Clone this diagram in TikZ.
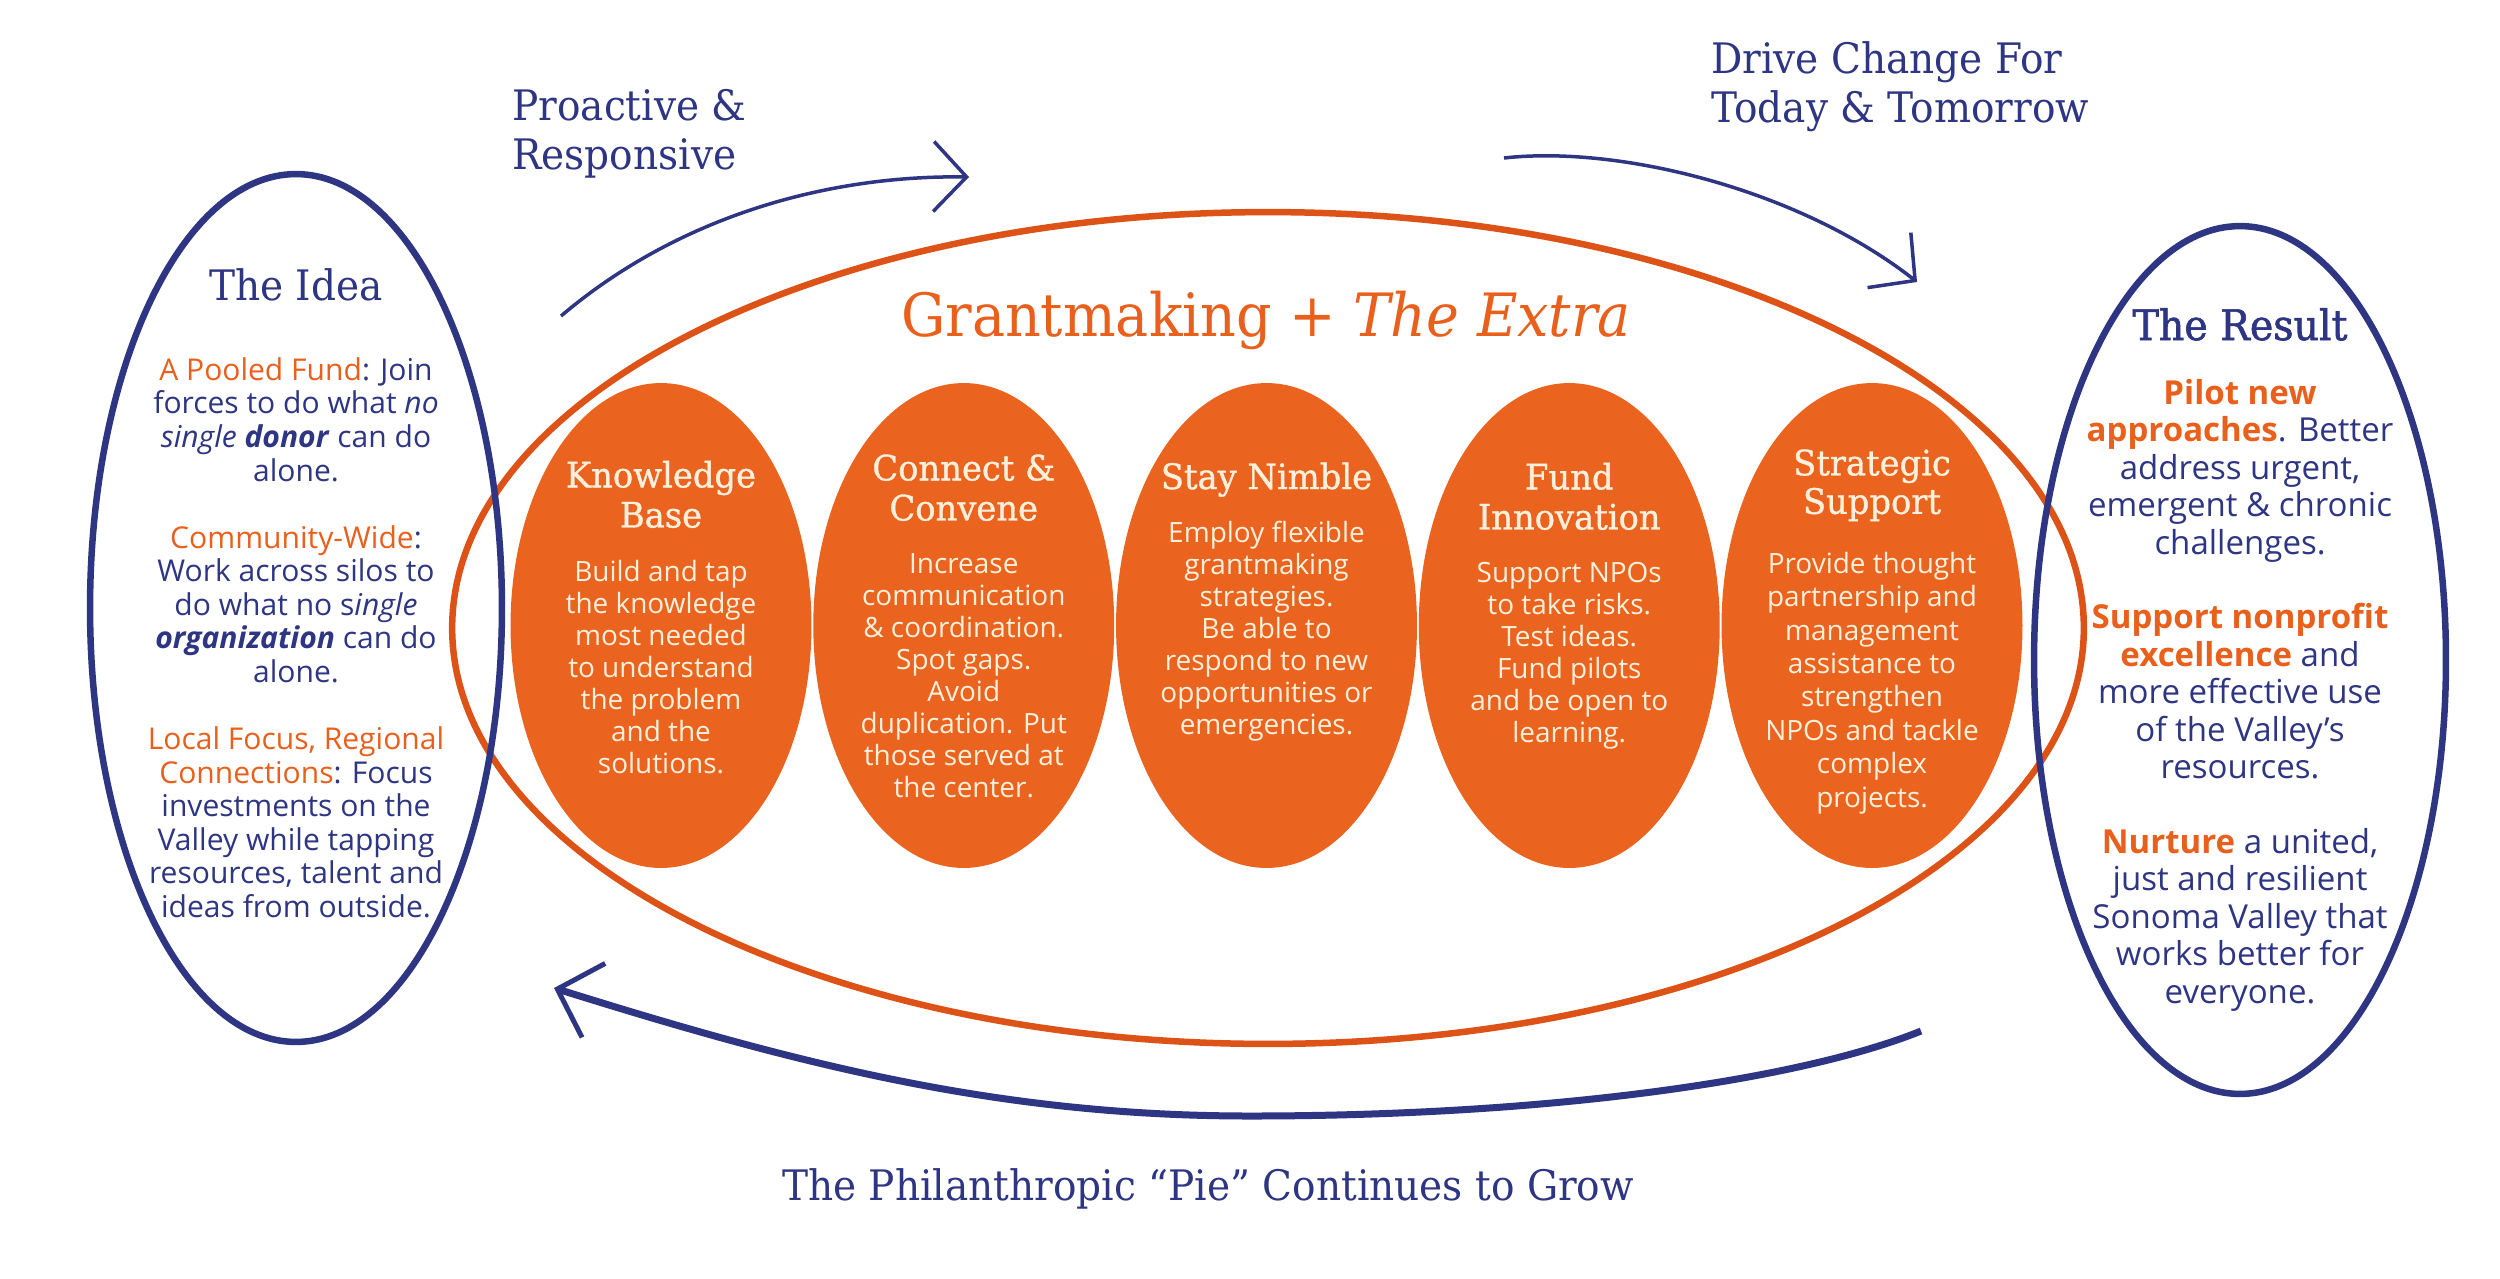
\documentclass[tikz,border=0pt]{standalone}
\usepackage{fontspec}
\setmainfont{Open Sans}
\newfontfamily\ser[FakeStretch=0.93]{DejaVu Serif}
\newfontfamily\serh[FakeStretch=0.965,FakeBold=1]{DejaVu Serif}
\newfontfamily\serb[FakeStretch=0.94,FakeBold=1.5]{DejaVu Serif}
\usetikzlibrary{shapes.geometric,arrows.meta}
\definecolor{Nv}{HTML}{2E3582}
\definecolor{Or}{HTML}{E8601C}
\definecolor{OrFill}{HTML}{EA631F}
\definecolor{OrLine}{HTML}{DC5217}
\definecolor{Cream}{HTML}{FBF0DC}
\newcommand\fTop{\ser\fontsize{23.9pt}{27.9pt}\selectfont}
\newcommand\fGrant{\ser\fontsize{34pt}{40pt}\selectfont}
\newcommand\fHead{\serh\fontsize{19.9pt}{22.8pt}\selectfont}
\newcommand\fBody{\fontsize{15.9pt}{18.2pt}\selectfont}
\newcommand\fLeft{\fontsize{17.1pt}{19.1pt}\selectfont}
\newcommand\fRight{\fontsize{18.8pt}{21.3pt}\selectfont}
\begin{document}
\begin{tikzpicture}[x=0.02cm,y=-0.02cm,
  pill/.style={ellipse, fill=OrFill, draw=none, minimum width=6.02cm, minimum height=9.7cm, inner sep=0pt},
  bigring/.style={ellipse, draw=OrLine, line width=0.13cm, minimum width=32.64cm, minimum height=16.64cm, inner sep=0pt},
  bluering/.style={ellipse, draw=Nv, line width=0.13cm, minimum width=8.24cm, minimum height=17.36cm, inner sep=0pt},
  headtxt/.style={anchor=north, inner sep=0pt, align=center, text=Cream, font=\fHead},
  bodytxt/.style={anchor=north, inner sep=0pt, align=center, text=Cream, font=\fBody},
  toparrow/.style={draw=Nv, line width=0.07cm, -{Straight Barb[length=0.66cm, width=1.4cm, line width=0.07cm]}},
  botarrow/.style={draw=Nv, line width=0.14cm, -{Straight Barb[length=0.76cm, width=1.55cm, line width=0.1cm]}}
]
\fill[white] (0,0) rectangle (2500,1278);
\useasboundingbox (0,0) rectangle (2500,1278);

% filled pills
\node[pill] (kb) at (661,625.5) {};
\node[pill] (cc) at (963.75,625.5) {};
\node[pill] (sn) at (1266.5,625.5) {};
\node[pill] (fi) at (1569.25,625.5) {};
\node[pill] (ss) at (1872,625.5) {};

% big ring
\node[bigring] (big) at (1268,628) {};

% blue rings
\node[bluering] (idea) at (296,608) {};
\node[bluering] (result) at (2240,660) {};

% arrows
\coordinate (a1s) at (561,316);
\coordinate (a1e) at (969,177);
\coordinate (a2s) at (1504,158);
\coordinate (a2e) at (1917,282);
\coordinate (a3s) at (1921,1031);
\coordinate (a3m) at (1250,1116);
\coordinate (a3e) at (554,988);
\draw[toparrow] (a1s) .. controls (680,215) and (830,175) .. (a1e);
\draw[toparrow] (a2s) .. controls (1620,145) and (1800,190) .. (a2e);
\draw[botarrow] (a3s) .. controls (1800,1080) and (1550,1116) .. (a3m) .. controls (1000,1116) and (800,1065) .. (a3e);

% top labels
\node[anchor=north west, inner sep=0pt, align=left, text=Nv, font=\fTop] (lab1) at (512,85.7) {\strut Proactive \&\\Responsive};
\node[anchor=north west, inner sep=0pt, align=left, text=Nv, font=\fTop] (lab2) at (1711,38.7) {\strut Drive Change For\\Today \& Tomorrow};
\node[anchor=base, inner sep=0pt, text=Nv, font=\fTop] (lab3) at (1208,1200) {The Philanthropic “Pie” Continues to Grow};
\node[anchor=base, inner sep=0pt, text=Or, font=\fGrant] (grant) at (1266,336) {Grantmaking + \textit{The Extra}};

% side titles
\node[anchor=base, inner sep=0pt, text=Nv, font=\fTop] (ideaT) at (296,300) {The Idea};
\node[anchor=base, inner sep=0pt, text=Nv, font=\serb\fontsize{23.9pt}{27.9pt}\selectfont] (resT) at (2240,340) {The Result};

% side texts
\node[anchor=north, inner sep=0pt, align=center, text=Nv, font=\fLeft] (ideaX) at (296,356.5) {\strut{\color{Or}A Pooled Fund}: Join\\
forces to do what \textit{no}\\
\textit{single \textbf{donor}} can do\\
alone.\\[19.1pt]
{\color{Or}Community-Wide}:\\
Work across silos to\\
do what no s\textit{ingle}\\
\textit{\textbf{organization}} can do\\
alone.\\[19.1pt]
{\color{Or}Local Focus, Regional}\\
{\color{Or}Connections}: Focus\\
investments on the\\
Valley while tapping\\
resources, talent and\\
ideas from outside.};

\node[anchor=north, inner sep=0pt, align=center, text=Nv, font=\fRight] (resX) at (2240,377.8) {\strut{\bfseries\color{Or}Pilot new}\\
{\bfseries\color{Or}approaches}. Better\\
address urgent,\\
emergent \& chronic\\
challenges.\\[21.3pt]
{\bfseries\color{Or}Support nonprofit}\\
{\bfseries\color{Or}excellence} and\\
more effective use\\
of the Valley’s\\
resources.\\[21.3pt]
{\bfseries\color{Or}Nurture} a united,\\
just and resilient\\
Sonoma Valley that\\
works better for\\
everyone.};

% pill texts
\node[headtxt] (kbH) at (661,459) {\strut Knowledge\\Base};
\node[bodytxt] (kbB) at (661,558.6) {\strut Build and tap\\the knowledge\\most needed\\to understand\\the problem\\and the\\solutions.};

\node[headtxt] (ccH) at (963.75,452) {\strut Connect \&\\Convene};
\node[bodytxt] (ccB) at (963.75,550.6) {\strut Increase\\communication\\\& coordination.\\Spot gaps.\\Avoid\\duplication. Put\\those served at\\the center.};

\node[anchor=base, inner sep=0pt, text=Cream, font=\fHead] (snH) at (1266.5,489) {Stay Nimble};
\node[bodytxt] (snB) at (1266.5,519.6) {\strut Employ flexible\\grantmaking\\strategies.\\Be able to\\respond to new\\opportunities or\\emergencies.};

\node[headtxt] (fiH) at (1569.25,461) {\strut Fund\\Innovation};
\node[bodytxt] (fiB) at (1569.25,559.6) {\strut Support NPOs\\to take risks.\\Test ideas.\\Fund pilots\\and be open to\\learning.};

\node[headtxt, font=\serh\fontsize{19.9pt}{20.5pt}\selectfont] (ssH) at (1872,449) {\strut Strategic\\Support};
\node[bodytxt, font=\fontsize{15.9pt}{19pt}\selectfont] (ssB) at (1872,549.6) {\strut Provide thought\\partnership and\\management\\assistance to\\strengthen\\NPOs and tackle\\complex\\projects.};
\end{tikzpicture}
\end{document}
